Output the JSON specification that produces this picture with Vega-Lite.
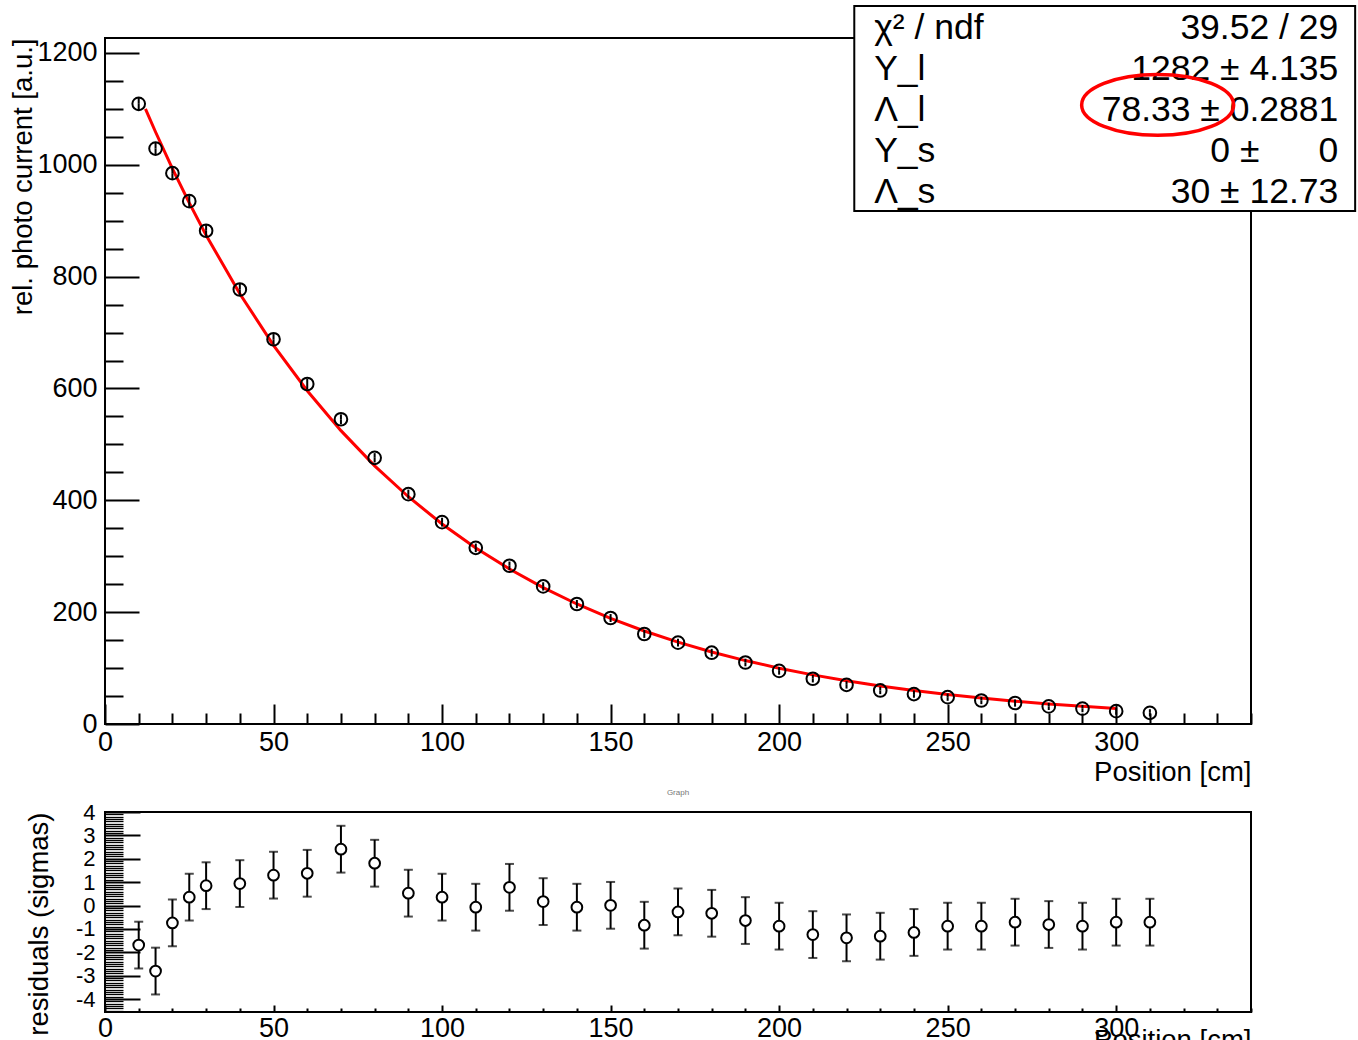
{
  "$schema": "https://vega.github.io/schema/vega-lite/v6.json",
  "padding": {"left": 8, "top": 3, "right": 0, "bottom": 0},
  "background": "white",
  "bounds": "flush",
  "spacing": 88,
  "config": {
    "view": {"stroke": "black", "strokeWidth": 2},
    "font": "Liberation Sans",
    "axis": {
      "labelFont": "Liberation Sans",
      "titleFont": "Liberation Sans",
      "labelColor": "black",
      "titleColor": "black",
      "tickColor": "black",
      "titleFontWeight": "normal",
      "domain": false,
      "grid": false,
      "labelFlush": false,
      "labelOverlap": false,
      "labelBound": false
    }
  },
  "datasets": {
    "points": [
      {"x": 10, "y": 1109, "lo": 1097.6, "hi": 1120.4, "res": -1.69, "rlo": -2.69, "rhi": -0.69},
      {"x": 15, "y": 1029, "lo": 1017.9, "hi": 1040.1, "res": -2.80, "rlo": -3.80, "rhi": -1.80},
      {"x": 20, "y": 985, "lo": 974.2, "hi": 995.8, "res": -0.74, "rlo": -1.74, "rhi": 0.26},
      {"x": 25, "y": 935, "lo": 924.5, "hi": 945.5, "res": 0.36, "rlo": -0.64, "rhi": 1.36},
      {"x": 30, "y": 882, "lo": 871.8, "hi": 892.2, "res": 0.85, "rlo": -0.15, "rhi": 1.85},
      {"x": 40, "y": 777, "lo": 767.2, "hi": 786.8, "res": 0.94, "rlo": -0.06, "rhi": 1.94},
      {"x": 50, "y": 688, "lo": 678.7, "hi": 697.3, "res": 1.30, "rlo": 0.30, "rhi": 2.30},
      {"x": 60, "y": 608, "lo": 599, "hi": 617, "res": 1.38, "rlo": 0.38, "rhi": 2.38},
      {"x": 70, "y": 545, "lo": 536.3, "hi": 553.7, "res": 2.41, "rlo": 1.41, "rhi": 3.41},
      {"x": 80, "y": 476, "lo": 467.6, "hi": 484.4, "res": 1.81, "rlo": 0.81, "rhi": 2.81},
      {"x": 90, "y": 411, "lo": 402.9, "hi": 419.1, "res": 0.53, "rlo": -0.47, "rhi": 1.53},
      {"x": 100, "y": 361, "lo": 353.1, "hi": 368.9, "res": 0.36, "rlo": -0.64, "rhi": 1.36},
      {"x": 110, "y": 315, "lo": 307.3, "hi": 322.7, "res": -0.07, "rlo": -1.07, "rhi": 0.93},
      {"x": 120, "y": 283, "lo": 275.5, "hi": 290.5, "res": 0.78, "rlo": -0.22, "rhi": 1.78},
      {"x": 130, "y": 246, "lo": 238.6, "hi": 253.4, "res": 0.17, "rlo": -0.83, "rhi": 1.17},
      {"x": 140, "y": 214.5, "lo": 207.2, "hi": 221.8, "res": -0.07, "rlo": -1.07, "rhi": 0.93},
      {"x": 150, "y": 189.5, "lo": 182.35, "hi": 196.65, "res": 0.01, "rlo": -0.99, "rhi": 1.01},
      {"x": 160, "y": 161, "lo": 153.95, "hi": 168.05, "res": -0.84, "rlo": -1.84, "rhi": 0.16},
      {"x": 170, "y": 145.5, "lo": 138.54, "hi": 152.46, "res": -0.27, "rlo": -1.27, "rhi": 0.73},
      {"x": 180, "y": 127.5, "lo": 120.62, "hi": 134.38, "res": -0.33, "rlo": -1.33, "rhi": 0.67},
      {"x": 190, "y": 110, "lo": 103.19, "hi": 116.81, "res": -0.64, "rlo": -1.64, "rhi": 0.36},
      {"x": 200, "y": 95, "lo": 88.25, "hi": 101.75, "res": -0.88, "rlo": -1.88, "rhi": 0.12},
      {"x": 210, "y": 81, "lo": 74.3, "hi": 87.7, "res": -1.24, "rlo": -2.24, "rhi": -0.24},
      {"x": 220, "y": 70, "lo": 63.35, "hi": 76.65, "res": -1.38, "rlo": -2.38, "rhi": -0.38},
      {"x": 230, "y": 60, "lo": 53.4, "hi": 66.6, "res": -1.31, "rlo": -2.31, "rhi": -0.31},
      {"x": 240, "y": 53.5, "lo": 46.93, "hi": 60.07, "res": -1.15, "rlo": -2.15, "rhi": -0.15},
      {"x": 250, "y": 48, "lo": 41.46, "hi": 54.54, "res": -0.88, "rlo": -1.88, "rhi": 0.12},
      {"x": 260, "y": 42, "lo": 35.49, "hi": 48.51, "res": -0.88, "rlo": -1.88, "rhi": 0.12},
      {"x": 270, "y": 37.5, "lo": 31.02, "hi": 43.98, "res": -0.71, "rlo": -1.71, "rhi": 0.29},
      {"x": 280, "y": 31.5, "lo": 25.04, "hi": 37.96, "res": -0.81, "rlo": -1.81, "rhi": 0.19},
      {"x": 290, "y": 27.5, "lo": 21.06, "hi": 33.94, "res": -0.88, "rlo": -1.88, "rhi": 0.12},
      {"x": 300, "y": 23, "lo": 16.57, "hi": 29.43, "res": -0.71, "rlo": -1.71, "rhi": 0.29},
      {"x": 310, "y": 20, "lo": 13.59, "hi": 26.41, "res": -0.71, "rlo": -1.71, "rhi": 0.29}
    ],
    "fit": [
      {"x": 12, "y": 1100},
      {"x": 15, "y": 1058.6},
      {"x": 20, "y": 993.1},
      {"x": 25, "y": 931.8},
      {"x": 30, "y": 874.1},
      {"x": 40, "y": 769.3},
      {"x": 50, "y": 677.1},
      {"x": 60, "y": 596.0},
      {"x": 70, "y": 524.6},
      {"x": 80, "y": 461.7},
      {"x": 90, "y": 406.4},
      {"x": 100, "y": 357.7},
      {"x": 110, "y": 314.8},
      {"x": 120, "y": 277.1},
      {"x": 130, "y": 243.9},
      {"x": 140, "y": 214.6},
      {"x": 150, "y": 188.9},
      {"x": 160, "y": 166.3},
      {"x": 170, "y": 146.3},
      {"x": 180, "y": 128.8},
      {"x": 190, "y": 113.4},
      {"x": 200, "y": 99.8},
      {"x": 210, "y": 87.8},
      {"x": 220, "y": 77.3},
      {"x": 230, "y": 68.0},
      {"x": 240, "y": 59.9},
      {"x": 250, "y": 52.7},
      {"x": 260, "y": 46.4},
      {"x": 270, "y": 40.8},
      {"x": 280, "y": 35.9},
      {"x": 290, "y": 31.6},
      {"x": 300, "y": 27.8}
    ]
  },
  "vconcat": [
    {
      "width": 1146,
      "height": 686,
      "encoding": {
        "x": {"field": "x", "type": "quantitative",
          "scale": {"domain": [0, 340], "nice": false, "zero": false},
          "axis": {"orient": "bottom", "values": [0,10,20,30,40,50,60,70,80,90,100,110,120,130,140,150,160,170,180,190,200,210,220,230,240,250,260,270,280,290,300,310,320,330,340], "labelExpr": "datum.value % 50 === 0 ? '' + datum.value : ''", "tickSize": {"condition": {"test": "datum.value % 50 === 0", "value": -20}, "value": -11}, "tickWidth": 2, "labelPadding": 25, "labelFontSize": 27, "title": "Position [cm]", "titleFontSize": 27.5, "titleAnchor": "end", "titleBaseline": "alphabetic", "titleY": 56}
        },
        "y": {"field": "y", "type": "quantitative",
          "scale": {"domain": [0, 1226.7], "nice": false, "zero": false},
          "axis": {"orient": "left", "values": [0,50,100,150,200,250,300,350,400,450,500,550,600,650,700,750,800,850,900,950,1000,1050,1100,1150,1200], "labelExpr": "datum.value % 200 === 0 ? '' + datum.value : ''", "tickSize": {"condition": {"test": "datum.value % 200 === 0", "value": -34}, "value": -18}, "tickWidth": 2, "labelPadding": 42, "labelFontSize": 27, "title": "rel. photo current [a.u.]", "titleFontSize": 27.5, "titleAngle": 270, "titleAlign": "right", "titleBaseline": "middle", "titleX": -82, "titleY": 0}
        }
      },
      "layer": [
        {
          "data": {"name": "fit"},
          "mark": {"type": "line", "color": "#ff0000", "strokeWidth": 3}
        },
        {
          "data": {"name": "points"},
          "mark": {"type": "rule", "color": "black", "strokeWidth": 2},
          "encoding": {"y2": {"field": "hi"}}
        },
        {
          "data": {"name": "points"},
          "mark": {"type": "rule", "color": "black", "strokeWidth": 2},
          "encoding": {"y2": {"field": "lo"}}
        },
        {
          "data": {"name": "points"},
          "mark": {"type": "point", "shape": "circle", "filled": false, "color": "black", "strokeWidth": 2, "size": 160, "opacity": 1}
        },
        {
          "data": {"name": "fit"},
          "transform": [{"filter": "datum.x === 12"}],
          "mark": {"type": "rect", "fill": "white", "stroke": "black", "strokeWidth": 2},
          "encoding": {
            "x": {"datum": 222.3, "type": "quantitative",
              "axis": {"orient": "bottom", "values": [0,10,20,30,40,50,60,70,80,90,100,110,120,130,140,150,160,170,180,190,200,210,220,230,240,250,260,270,280,290,300,310,320,330,340], "labelExpr": "datum.value % 50 === 0 ? '' + datum.value : ''", "tickSize": {"condition": {"test": "datum.value % 50 === 0", "value": -20}, "value": -11}, "tickWidth": 2, "labelPadding": 25, "labelFontSize": 27, "title": "Position [cm]", "titleFontSize": 27.5, "titleAnchor": "end", "titleBaseline": "alphabetic", "titleY": 56}},
            "x2": {"datum": 370.9},
            "y": {"datum": 917.4, "type": "quantitative",
              "axis": {"orient": "left", "values": [0,50,100,150,200,250,300,350,400,450,500,550,600,650,700,750,800,850,900,950,1000,1050,1100,1150,1200], "labelExpr": "datum.value % 200 === 0 ? '' + datum.value : ''", "tickSize": {"condition": {"test": "datum.value % 200 === 0", "value": -34}, "value": -18}, "tickWidth": 2, "labelPadding": 42, "labelFontSize": 27, "title": "rel. photo current [a.u.]", "titleFontSize": 27.5, "titleAngle": 270, "titleAlign": "right", "titleBaseline": "middle", "titleX": -82, "titleY": 0}},
            "y2": {"datum": 1284}
          }
        },
        {
          "data": {"name": "fit"},
          "transform": [{"filter": "datum.x === 12"}],
          "mark": {"type": "text", "align": "left", "baseline": "top", "fontSize": 35.5, "lineHeight": 41, "color": "black", "font": "Liberation Sans"},
          "encoding": {
            "x": {"datum": 228.2, "type": "quantitative",
              "axis": {"orient": "bottom", "values": [0,10,20,30,40,50,60,70,80,90,100,110,120,130,140,150,160,170,180,190,200,210,220,230,240,250,260,270,280,290,300,310,320,330,340], "labelExpr": "datum.value % 50 === 0 ? '' + datum.value : ''", "tickSize": {"condition": {"test": "datum.value % 50 === 0", "value": -20}, "value": -11}, "tickWidth": 2, "labelPadding": 25, "labelFontSize": 27, "title": "Position [cm]", "titleFontSize": 27.5, "titleAnchor": "end", "titleBaseline": "alphabetic", "titleY": 56}},
            "y": {"datum": 1275, "type": "quantitative",
              "axis": {"orient": "left", "values": [0,50,100,150,200,250,300,350,400,450,500,550,600,650,700,750,800,850,900,950,1000,1050,1100,1150,1200], "labelExpr": "datum.value % 200 === 0 ? '' + datum.value : ''", "tickSize": {"condition": {"test": "datum.value % 200 === 0", "value": -34}, "value": -18}, "tickWidth": 2, "labelPadding": 42, "labelFontSize": 27, "title": "rel. photo current [a.u.]", "titleFontSize": 27.5, "titleAngle": 270, "titleAlign": "right", "titleBaseline": "middle", "titleX": -82, "titleY": 0}},
            "text": {"value": ["χ² / ndf", "Y_l", "Λ_l", "Y_s", "Λ_s"]}
          }
        },
        {
          "data": {"name": "fit"},
          "transform": [{"filter": "datum.x === 12"}],
          "mark": {"type": "text", "align": "right", "baseline": "top", "fontSize": 35.5, "lineHeight": 41, "color": "black", "font": "Liberation Sans"},
          "encoding": {
            "x": {"datum": 365.9, "type": "quantitative",
              "axis": {"orient": "bottom", "values": [0,10,20,30,40,50,60,70,80,90,100,110,120,130,140,150,160,170,180,190,200,210,220,230,240,250,260,270,280,290,300,310,320,330,340], "labelExpr": "datum.value % 50 === 0 ? '' + datum.value : ''", "tickSize": {"condition": {"test": "datum.value % 50 === 0", "value": -20}, "value": -11}, "tickWidth": 2, "labelPadding": 25, "labelFontSize": 27, "title": "Position [cm]", "titleFontSize": 27.5, "titleAnchor": "end", "titleBaseline": "alphabetic", "titleY": 56}},
            "y": {"datum": 1275, "type": "quantitative",
              "axis": {"orient": "left", "values": [0,50,100,150,200,250,300,350,400,450,500,550,600,650,700,750,800,850,900,950,1000,1050,1100,1150,1200], "labelExpr": "datum.value % 200 === 0 ? '' + datum.value : ''", "tickSize": {"condition": {"test": "datum.value % 200 === 0", "value": -34}, "value": -18}, "tickWidth": 2, "labelPadding": 42, "labelFontSize": 27, "title": "rel. photo current [a.u.]", "titleFontSize": 27.5, "titleAngle": 270, "titleAlign": "right", "titleBaseline": "middle", "titleX": -82, "titleY": 0}},
            "text": {"value": ["39.52 / 29", "1282 ± 4.135", "78.33 ± 0.2881", "0 ±\u00a0\u00a0\u00a0\u00a0\u00a0 0", "30 ± 12.73"]}
          }
        },
        {
          "data": {"name": "fit"},
          "transform": [{"filter": "datum.x === 12"}],
          "mark": {"type": "point", "shape": "M -1 0 A 1 0.4 0 1 1 1 0 A 1 0.4 0 1 1 -1 0 Z", "filled": false, "stroke": "#ff0000", "strokeWidth": 3.5, "size": 23104, "opacity": 1},
          "encoding": {
            "x": {"datum": 312.3, "type": "quantitative",
              "axis": {"orient": "bottom", "values": [0,10,20,30,40,50,60,70,80,90,100,110,120,130,140,150,160,170,180,190,200,210,220,230,240,250,260,270,280,290,300,310,320,330,340], "labelExpr": "datum.value % 50 === 0 ? '' + datum.value : ''", "tickSize": {"condition": {"test": "datum.value % 50 === 0", "value": -20}, "value": -11}, "tickWidth": 2, "labelPadding": 25, "labelFontSize": 27, "title": "Position [cm]", "titleFontSize": 27.5, "titleAnchor": "end", "titleBaseline": "alphabetic", "titleY": 56}},
            "y": {"datum": 1107, "type": "quantitative",
              "axis": {"orient": "left", "values": [0,50,100,150,200,250,300,350,400,450,500,550,600,650,700,750,800,850,900,950,1000,1050,1100,1150,1200], "labelExpr": "datum.value % 200 === 0 ? '' + datum.value : ''", "tickSize": {"condition": {"test": "datum.value % 200 === 0", "value": -34}, "value": -18}, "tickWidth": 2, "labelPadding": 42, "labelFontSize": 27, "title": "rel. photo current [a.u.]", "titleFontSize": 27.5, "titleAngle": 270, "titleAlign": "right", "titleBaseline": "middle", "titleX": -82, "titleY": 0}}
          }
        }
      ]
    },
    {
      "width": 1146,
      "height": 200,
      "title": {"text": "Graph", "fontSize": 8, "color": "#777777", "font": "Liberation Sans", "fontWeight": "normal", "anchor": "middle", "offset": 4},
      "data": {"name": "points"},
      "encoding": {
        "x": {"field": "x", "type": "quantitative",
          "scale": {"domain": [0, 340], "nice": false, "zero": false},
          "axis": {"orient": "bottom", "values": [0,10,20,30,40,50,60,70,80,90,100,110,120,130,140,150,160,170,180,190,200,210,220,230,240,250,260,270,280,290,300,310,320,330,340], "labelExpr": "datum.value % 50 === 0 ? '' + datum.value : ''", "tickSize": {"condition": {"test": "datum.value % 50 === 0", "value": -7}, "value": -4}, "tickWidth": 2, "labelPadding": 10, "labelFontSize": 27, "title": "Position [cm]", "titleFontSize": 27.5, "titleAnchor": "end", "titleBaseline": "alphabetic", "titleY": 36}
        },
        "y": {"field": "res", "type": "quantitative",
          "scale": {"domain": [-4.55, 4.0], "nice": false, "zero": false},
          "axis": {"orient": "left", "values": [-4.5,-4.4,-4.3,-4.2,-4.1,-4,-3.9,-3.8,-3.7,-3.6,-3.5,-3.4,-3.3,-3.2,-3.1,-3,-2.9,-2.8,-2.7,-2.6,-2.5,-2.4,-2.3,-2.2,-2.1,-2,-1.9,-1.8,-1.7,-1.6,-1.5,-1.4,-1.3,-1.2,-1.1,-1,-0.9,-0.8,-0.7,-0.6,-0.5,-0.4,-0.3,-0.2,-0.1,0,0.1,0.2,0.3,0.4,0.5,0.6,0.7,0.8,0.9,1,1.1,1.2,1.3,1.4,1.5,1.6,1.7,1.8,1.9,2,2.1,2.2,2.3,2.4,2.5,2.6,2.7,2.8,2.9,3,3.1,3.2,3.3,3.4,3.5,3.6,3.7,3.8,3.9,4], "labelExpr": "abs(datum.value - round(datum.value)) < 0.01 ? '' + round(datum.value) : ''", "tickSize": {"condition": {"test": "abs(datum.value - round(datum.value)) < 0.01", "value": -35}, "value": -18}, "tickWidth": {"condition": {"test": "abs(datum.value - round(datum.value)) < 0.01", "value": 2}, "value": 1.3}, "labelPadding": 45, "labelFontSize": 22, "title": "residuals (sigmas)", "titleFontSize": 27.5, "titleAngle": 270, "titleAlign": "right", "titleBaseline": "middle", "titleX": -66, "titleY": 0}
        }
      },
      "layer": [
        {
          "mark": {"type": "rule", "color": "black", "strokeWidth": 2},
          "encoding": {"y2": {"field": "rhi"}}
        },
        {
          "mark": {"type": "rule", "color": "black", "strokeWidth": 2},
          "encoding": {"y2": {"field": "rlo"}}
        },
        {
          "mark": {"type": "tick", "orient": "horizontal", "color": "black", "thickness": 2, "size": 9},
          "encoding": {
            "y": {"field": "rlo", "type": "quantitative",
              "axis": {"orient": "left", "values": [-4.5,-4.4,-4.3,-4.2,-4.1,-4,-3.9,-3.8,-3.7,-3.6,-3.5,-3.4,-3.3,-3.2,-3.1,-3,-2.9,-2.8,-2.7,-2.6,-2.5,-2.4,-2.3,-2.2,-2.1,-2,-1.9,-1.8,-1.7,-1.6,-1.5,-1.4,-1.3,-1.2,-1.1,-1,-0.9,-0.8,-0.7,-0.6,-0.5,-0.4,-0.3,-0.2,-0.1,0,0.1,0.2,0.3,0.4,0.5,0.6,0.7,0.8,0.9,1,1.1,1.2,1.3,1.4,1.5,1.6,1.7,1.8,1.9,2,2.1,2.2,2.3,2.4,2.5,2.6,2.7,2.8,2.9,3,3.1,3.2,3.3,3.4,3.5,3.6,3.7,3.8,3.9,4], "labelExpr": "abs(datum.value - round(datum.value)) < 0.01 ? '' + round(datum.value) : ''", "tickSize": {"condition": {"test": "abs(datum.value - round(datum.value)) < 0.01", "value": -35}, "value": -18}, "tickWidth": {"condition": {"test": "abs(datum.value - round(datum.value)) < 0.01", "value": 2}, "value": 1.3}, "labelPadding": 45, "labelFontSize": 22, "title": "residuals (sigmas)", "titleFontSize": 27.5, "titleAngle": 270, "titleAlign": "right", "titleBaseline": "middle", "titleX": -66, "titleY": 0}}
          }
        },
        {
          "mark": {"type": "tick", "orient": "horizontal", "color": "black", "thickness": 2, "size": 9},
          "encoding": {
            "y": {"field": "rhi", "type": "quantitative",
              "axis": {"orient": "left", "values": [-4.5,-4.4,-4.3,-4.2,-4.1,-4,-3.9,-3.8,-3.7,-3.6,-3.5,-3.4,-3.3,-3.2,-3.1,-3,-2.9,-2.8,-2.7,-2.6,-2.5,-2.4,-2.3,-2.2,-2.1,-2,-1.9,-1.8,-1.7,-1.6,-1.5,-1.4,-1.3,-1.2,-1.1,-1,-0.9,-0.8,-0.7,-0.6,-0.5,-0.4,-0.3,-0.2,-0.1,0,0.1,0.2,0.3,0.4,0.5,0.6,0.7,0.8,0.9,1,1.1,1.2,1.3,1.4,1.5,1.6,1.7,1.8,1.9,2,2.1,2.2,2.3,2.4,2.5,2.6,2.7,2.8,2.9,3,3.1,3.2,3.3,3.4,3.5,3.6,3.7,3.8,3.9,4], "labelExpr": "abs(datum.value - round(datum.value)) < 0.01 ? '' + round(datum.value) : ''", "tickSize": {"condition": {"test": "abs(datum.value - round(datum.value)) < 0.01", "value": -35}, "value": -18}, "tickWidth": {"condition": {"test": "abs(datum.value - round(datum.value)) < 0.01", "value": 2}, "value": 1.3}, "labelPadding": 45, "labelFontSize": 22, "title": "residuals (sigmas)", "titleFontSize": 27.5, "titleAngle": 270, "titleAlign": "right", "titleBaseline": "middle", "titleX": -66, "titleY": 0}}
          }
        },
        {
          "mark": {"type": "point", "shape": "circle", "filled": true, "fill": "white", "stroke": "black", "strokeWidth": 2, "size": 115, "opacity": 1}
        }
      ]
    }
  ]
}
